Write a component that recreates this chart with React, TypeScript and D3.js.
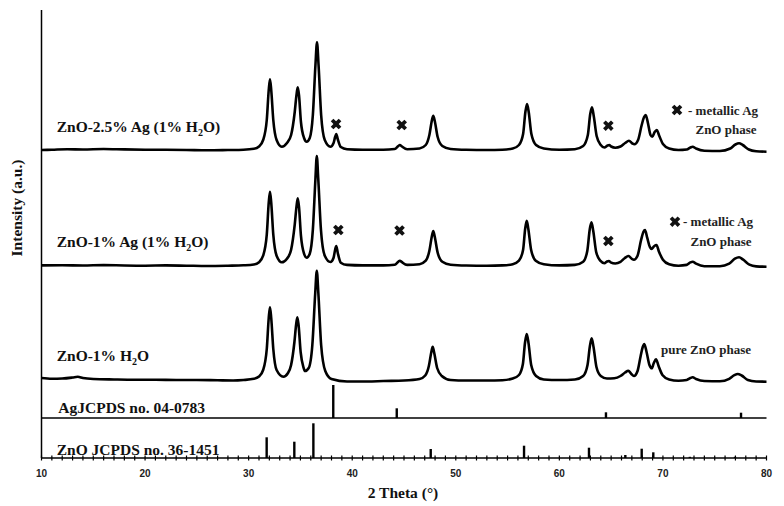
import React from "react";
import * as d3 from "d3";

const W = 784;
const H = 506;

// XRD patterns, [2 theta, intensity (a.u.) above the pattern's own baseline]
const ag25: [number, number][] = [
  [10, 0], [11, 0.3], [12.5, 0.8], [14, 0.5], [16, 1.0], [18, 0.6], [20, 0.3], [22, 0.2], [24, 0], [26, -0.3],
  [28, 0], [29.5, 0.3], [30.5, 1.2], [31.0, 3.5], [31.4, 10], [31.75, 30], [31.94, 60], [32.06, 70.7], [32.18, 60],
  [32.38, 30], [32.7, 10], [33.2, 3.3], [33.7, 7], [34.1, 15], [34.45, 38], [34.62, 55], [34.74, 62.7], [34.86, 55],
  [35.05, 28], [35.35, 12], [35.6, 8.3], [35.9, 12], [36.2, 35], [36.45, 85], [36.6, 107.7], [36.75, 85], [37.0, 35],
  [37.35, 10], [37.9, 3.3], [38.2, 7], [38.35, 13], [38.46, 16], [38.6, 11], [38.9, 3], [39.5, 0.8], [41, 0.3],
  [43, 0.3], [44.1, 1], [44.45, 4], [44.6, 5], [44.8, 3.5], [45.3, 0.8], [46.5, 1.5], [47.1, 5], [47.45, 15],
  [47.7, 30], [47.83, 34.3], [47.97, 29], [48.25, 13], [48.7, 4], [49.5, 1], [51, 0.2], [53, 0], [54.5, 0.3],
  [55.5, 1.5], [56.1, 5], [56.5, 16], [56.72, 38], [56.88, 46], [57.04, 38], [57.3, 16], [57.75, 5], [58.5, 1.5],
  [60, 0.3], [61.5, 0.8], [62.3, 4], [62.75, 15], [62.98, 36], [63.15, 42.7], [63.32, 34], [63.6, 14], [64.0, 5],
  [64.35, 2.5], [64.65, 4.5], [64.82, 5], [65.0, 3.5], [65.4, 2.3], [65.9, 3.5], [66.35, 7], [66.72, 9.3],
  [67.05, 6.5], [67.24, 5.7], [67.6, 10], [67.95, 25], [68.18, 33], [68.34, 35], [68.55, 27], [68.8, 15],
  [68.97, 13.3], [69.2, 18], [69.4, 20], [69.65, 14], [70.0, 6], [70.6, 1.5], [71.5, 0], [72.3, 0.5], [72.65, 2.5],
  [72.87, 3.3], [73.2, 1.5], [74, -0.7], [75.5, -1], [76.5, 1.5], [77.0, 5.5], [77.35, 6.7], [77.7, 5], [78.3, 0.5],
  [79, -1.2], [80, -1.7],
];

const ag1: [number, number][] = [
  [10, 0.3], [12, 0.5], [14, 0.2], [16, 0.6], [18, 0.2], [20, 0], [22, 0.3], [24, 0], [26, -0.3], [28, 0],
  [29.5, 0.4], [30.5, 1.2], [31.0, 3.5], [31.4, 10], [31.75, 31], [31.94, 63], [32.06, 74], [32.18, 63], [32.38, 31],
  [32.7, 10], [33.2, 3.4], [33.7, 7], [34.1, 16], [34.45, 41], [34.62, 59], [34.74, 67.4], [34.86, 59], [35.05, 30],
  [35.35, 12], [35.6, 8], [35.9, 12], [36.2, 36], [36.45, 87], [36.58, 109.7], [36.72, 87], [36.98, 36], [37.35, 10],
  [37.9, 3.7], [38.2, 8], [38.35, 16], [38.46, 19.7], [38.6, 13], [38.9, 3], [39.5, 0.8], [41, 0.3], [43, 0.3],
  [44.1, 1], [44.45, 4], [44.6, 5], [44.8, 3.5], [45.3, 0.8], [46.5, 1.5], [47.1, 5], [47.45, 15], [47.7, 30],
  [47.83, 34.7], [47.97, 29], [48.25, 13], [48.7, 4], [49.5, 1], [51, 0.2], [53, 0], [54.5, 0.3], [55.5, 1.5],
  [56.1, 5], [56.5, 16], [56.7, 37], [56.85, 45], [57.0, 37], [57.27, 16], [57.72, 5], [58.5, 1.5], [60, 0.3],
  [61.5, 0.8], [62.3, 4], [62.7, 15], [62.93, 36], [63.1, 43.4], [63.27, 35], [63.55, 14], [63.95, 5], [64.35, 2.5],
  [64.6, 4.2], [64.78, 4.7], [64.95, 3.3], [65.4, 2.2], [65.9, 3.8], [66.3, 7.5], [66.68, 9.7], [67.0, 6.8],
  [67.2, 6], [67.55, 10], [67.9, 26], [68.12, 34], [68.27, 35.7], [68.48, 28], [68.75, 18.5], [68.9, 16.7],
  [69.15, 19.5], [69.38, 20.7], [69.62, 14], [70.0, 6], [70.6, 1.5], [71.5, 0], [72.3, 0.8], [72.65, 3.3],
  [72.87, 4], [73.2, 2], [74, -0.5], [75.5, -0.5], [76.4, 2], [76.95, 7], [77.35, 8.4], [77.75, 6], [78.35, 1],
  [79, -0.7], [80, -1],
];

const pure: [number, number][] = [
  [10, 2], [11, 1.3], [12, 1.5], [13, 2.5], [13.5, 3.2], [14, 2], [15, 1], [17, 0.5], [19, 0.2], [21, 0.3], [23, 0],
  [25, 0], [27, -0.3], [28.5, -0.5], [29.5, 0], [30.5, 1.2], [31.0, 3.5], [31.4, 10], [31.75, 31], [31.94, 62],
  [32.06, 72.7], [32.18, 62], [32.38, 31], [32.7, 10], [33.35, 3.3], [33.8, 7], [34.1, 15], [34.42, 38], [34.58, 55],
  [34.7, 62.7], [34.82, 55], [35.02, 28], [35.3, 12.5], [35.44, 9], [35.8, 12], [36.15, 35], [36.43, 87],
  [36.58, 109.3], [36.73, 87], [37.0, 35], [37.4, 9], [38, 1], [39.5, -1.5], [41.5, -1.5], [43, -1], [45, -0.5],
  [46.5, 1], [47.05, 4.5], [47.4, 14], [47.64, 28], [47.77, 33.3], [47.9, 28], [48.2, 12], [48.65, 4], [49.5, 0],
  [51, -0.5], [53, -0.5], [54.5, -0.2], [55.5, 1.5], [56.1, 5], [56.48, 16], [56.68, 37], [56.85, 46], [57.02, 37],
  [57.28, 15], [57.75, 4], [58.5, 0.5], [60, 0], [61.5, 0.5], [62.3, 4], [62.72, 15], [62.95, 34], [63.12, 41.7],
  [63.3, 33], [63.58, 13], [64.0, 4], [64.6, 1.5], [65.3, 1.8], [65.9, 4], [66.35, 7.5], [66.66, 9.3], [66.95, 6],
  [67.2, 4], [67.55, 9], [67.85, 24], [68.05, 33], [68.2, 36], [68.42, 28], [68.7, 15], [68.92, 11.7], [69.12, 17],
  [69.33, 20.7], [69.58, 14], [69.95, 5], [70.6, 0.5], [71.5, -0.8], [72.3, 0], [72.65, 2], [72.87, 2.7],
  [73.2, 1], [74, -1], [75.5, -1.2], [76.4, 1.2], [76.9, 4.8], [77.22, 6], [77.6, 4.5], [78.2, 0], [79, -1.5],
  [80, -1.7],
];

// reference cards (stick patterns)
const agSticks: [number, number][] = [[38.17, 33], [44.3, 9.7], [64.5, 5.7], [77.54, 5.3]];
const znoSticks: [number, number][] = [
  [31.74, 20.7], [34.41, 16.3], [36.25, 34.7], [47.58, 9], [56.59, 12.3], [62.86, 10.3],
  [66.37, 3], [67.95, 9.3], [69.07, 5.7], [72.6, 1.2], [76.96, 1.2],
];

// metallic Ag markers
const marks25: [number, number][] = [[38.44, 26], [44.78, 25], [64.73, 24.3]];
const marks1: [number, number][] = [[38.66, 35.7], [44.57, 35.2], [64.73, 24.7]];

// vertical offsets of each pattern (a.u.)
const offAg25 = 308;
const offAg1 = 192.3;
const offPure = 78;
const offAgRef = 40;
const offZnoRef = 0;

const serif = "'Liberation Serif', 'DejaVu Serif', serif";

export default function App() {
  const x = d3.scaleLinear().domain([10, 80]).range([41.5, 766.5]);
  const y = d3.scaleLinear().domain([0, 448]).range([458, 10]);

  const line = (off: number) =>
    d3
      .line<[number, number]>()
      .x((d) => x(d[0]))
      .y((d) => y(d[1] + off))
      .curve(d3.curveMonotoneX);

  const cross = d3.symbol().type(d3.symbolCross).size(70)();

  const minor = d3.range(10, 81, 1);
  const major = x.ticks(7);

  const sticks = (data: [number, number][], off: number) =>
    data.map((d, i) => (
      <line key={i} x1={x(d[0])} x2={x(d[0])} y1={y(off)} y2={y(off + d[1])} stroke="#000" strokeWidth={2.4} />
    ));

  const markers = (data: [number, number][], off: number) =>
    data.map((d, i) => (
      <path key={i} d={cross!} transform={`translate(${x(d[0])},${y(off + d[1])}) rotate(45)`} fill="#111" />
    ));

  const lbl = { fontFamily: serif, fontWeight: 700, fontSize: 15.5, fill: "#111" } as const;
  const small = { fontFamily: serif, fontWeight: 700, fontSize: 13, fill: "#222" } as const;

  return (
    <svg width={W} height={H} style={{ position: "absolute", left: 0, top: 0, background: "#fff" }}>
      {/* axes */}
      <line x1={x(10)} x2={x(10)} y1={y(448)} y2={y(0)} stroke="#000" strokeWidth={1.5} />
      <line x1={x(10)} x2={x(80)} y1={y(0)} y2={y(0)} stroke="#000" strokeWidth={1.5} />
      {minor.map((t) => (
        <line key={t} x1={x(t)} x2={x(t)} y1={y(0) - 2.5} y2={y(0) + 2.5} stroke="#000" strokeWidth={1.2} />
      ))}
      {major.map((t) => (
        <text key={t} x={x(t)} y={477} textAnchor="middle" fontFamily="'Liberation Sans', Arial, sans-serif"
          fontWeight={700} fontSize={10} fill="#222">{t}</text>
      ))}
      <text x={403} y={498} textAnchor="middle" {...lbl}>2 Theta (°)</text>
      <text transform={`translate(22,208) rotate(-90)`} textAnchor="middle" {...lbl}>Intensity (a.u.)</text>

      {/* reference patterns */}
      <line x1={x(10)} x2={x(80)} y1={y(offAgRef)} y2={y(offAgRef)} stroke="#000" strokeWidth={1.4} />
      {sticks(agSticks, offAgRef)}
      {sticks(znoSticks, offZnoRef)}

      {/* measured patterns */}
      {[[ag25, offAg25], [ag1, offAg1], [pure, offPure]].map(([d, off], i) => (
        <path key={i} d={line(off as number)(d as [number, number][])!} fill="none" stroke="#000"
          strokeWidth={2.6} strokeLinejoin="round" />
      ))}
      {markers(marks25, offAg25)}
      {markers(marks1, offAg1)}

      {/* labels */}
      <text x={56.7} y={131.5} {...lbl}>
        ZnO-2.5% Ag (1% H<tspan dy={4} fontSize={10}>2</tspan><tspan dy={-4}>O)</tspan>
      </text>
      <text x={56.7} y={247} {...lbl}>
        ZnO-1% Ag (1% H<tspan dy={4} fontSize={10}>2</tspan><tspan dy={-4}>O)</tspan>
      </text>
      <text x={56.7} y={361} {...lbl}>
        ZnO-1% H<tspan dy={4} fontSize={10}>2</tspan><tspan dy={-4}>O</tspan>
      </text>
      <text x={58.3} y={412.5} {...lbl}>AgJCPDS no. 04-0783</text>
      <text x={56.7} y={454.5} {...lbl}>ZnO JCPDS no. 36-1451</text>

      <path d={cross!} transform="translate(677,110) rotate(45)" fill="#111" />
      <text x={688} y={114.5} {...small}>- metallic Ag</text>
      <text x={726} y={134} textAnchor="middle" {...small}>ZnO phase</text>

      <path d={cross!} transform="translate(675,221.7) rotate(45)" fill="#111" />
      <text x={683} y={226} {...small}>- metallic Ag</text>
      <text x={721} y={246} textAnchor="middle" {...small}>ZnO phase</text>

      <text x={706} y={354} textAnchor="middle" {...small}>pure ZnO phase</text>
    </svg>
  );
}
